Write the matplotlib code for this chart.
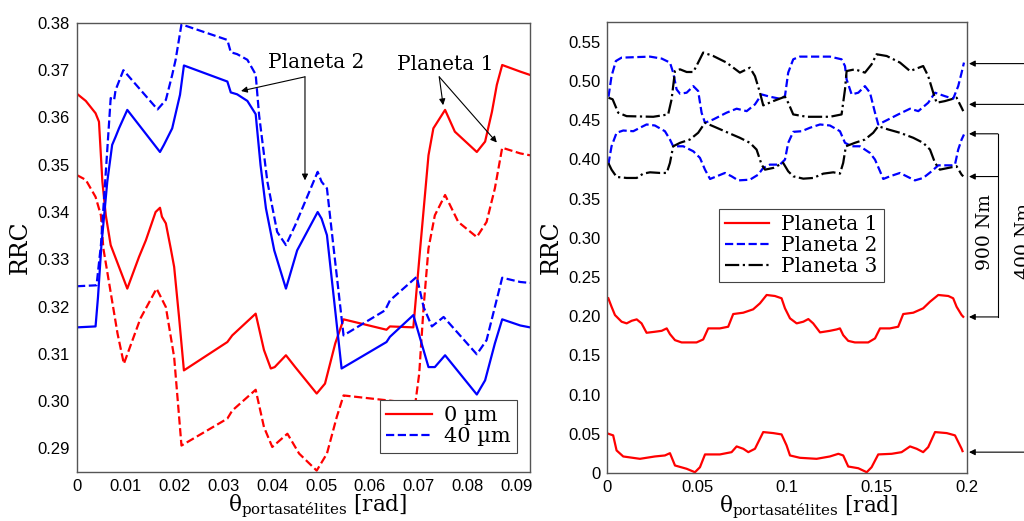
import matplotlib as mpl
mpl.use('Agg')
import matplotlib.pyplot as plt

# ---- left panel: RRC vs carrier angle, 0 um / 40 um ----
x_p1_0 = [0, 0.0018, 0.0038, 0.0045, 0.0052, 0.0059, 0.0069, 0.0103, 0.0127, 0.0141,
          0.0161, 0.0170, 0.0174, 0.0182, 0.0192, 0.0199, 0.0209, 0.0219, 0.0308, 0.0318,
          0.0366, 0.0383, 0.0397, 0.0405, 0.0428, 0.0447, 0.0491, 0.0508, 0.0529, 0.0546,
          0.0634, 0.0641, 0.0689, 0.0703, 0.0720, 0.0730, 0.0754, 0.0774, 0.0819, 0.0836,
          0.0850, 0.0860, 0.0871, 0.0908, 0.0928]
y_p1_0 = [0.3650, 0.3635, 0.3609, 0.3591, 0.3464, 0.3393, 0.3330, 0.3238, 0.3305, 0.3340,
          0.3400, 0.3409, 0.3390, 0.3376, 0.3323, 0.3284, 0.3178, 0.3065, 0.3125, 0.3139,
          0.3185, 0.3108, 0.3069, 0.3072, 0.3097, 0.3072, 0.3016, 0.3037, 0.3122, 0.3173,
          0.3151, 0.3158, 0.3156, 0.3323, 0.3520, 0.3577, 0.3616, 0.3570, 0.3527, 0.3549,
          0.3612, 0.3669, 0.3711, 0.3697, 0.3690]

x_p1_40 = [0, 0.0018, 0.0038, 0.0049, 0.0054, 0.0083, 0.0096, 0.0130, 0.0163, 0.0182,
           0.0199, 0.0214, 0.0308, 0.0318, 0.0366, 0.0383, 0.0400, 0.0431, 0.0455, 0.0491,
           0.0512, 0.0532, 0.0546, 0.0693, 0.0701, 0.0710, 0.0720, 0.0733, 0.0754, 0.0781,
           0.0819, 0.0839, 0.0856, 0.0871, 0.0908, 0.0928]
y_p1_40 = [0.3478, 0.3468, 0.3432, 0.3393, 0.3323, 0.3143, 0.3079, 0.3175, 0.3238, 0.3199,
           0.3093, 0.2906, 0.2963, 0.2980, 0.3024, 0.2945, 0.2903, 0.2931, 0.2889, 0.2853,
           0.2889, 0.2966, 0.3012, 0.2995, 0.3058, 0.3199, 0.3323, 0.3393, 0.3436, 0.3379,
           0.3347, 0.3379, 0.3450, 0.3536, 0.3524, 0.3520]

x_p2_0 = [0, 0.0038, 0.0043, 0.0050, 0.0062, 0.0072, 0.0079, 0.0086, 0.0103, 0.0170,
          0.0178, 0.0195, 0.0211, 0.0219, 0.0308, 0.0315, 0.0328, 0.0349, 0.0366, 0.0376,
          0.0387, 0.0404, 0.0428, 0.0451, 0.0493, 0.0501, 0.0512, 0.0542, 0.0634, 0.0641,
          0.0689, 0.0720, 0.0733, 0.0754, 0.0819, 0.0836, 0.0856, 0.0871, 0.0908, 0.0928]
y_p2_0 = [0.3156, 0.3158, 0.3220, 0.3330, 0.3464, 0.3542, 0.3559, 0.3577, 0.3616, 0.3527,
          0.3542, 0.3577, 0.3648, 0.3710, 0.3676, 0.3653, 0.3649, 0.3635, 0.3607, 0.3499,
          0.3408, 0.3319, 0.3238, 0.3319, 0.3400, 0.3386, 0.3351, 0.3069, 0.3125, 0.3136,
          0.3182, 0.3072, 0.3072, 0.3097, 0.3014, 0.3044, 0.3122, 0.3173, 0.3160, 0.3156]

x_p2_40 = [0, 0.0040, 0.0049, 0.0060, 0.0069, 0.0076, 0.0079, 0.0095, 0.0165, 0.0182,
           0.0195, 0.0202, 0.0214, 0.0308, 0.0315, 0.0328, 0.0349, 0.0366, 0.0373, 0.0390,
           0.0410, 0.0428, 0.0447, 0.0493, 0.0501, 0.0512, 0.0525, 0.0546, 0.0631, 0.0641,
           0.0696, 0.0710, 0.0727, 0.0751, 0.0819, 0.0839, 0.0871, 0.0908, 0.0928]
y_p2_40 = [0.3243, 0.3245, 0.3330, 0.3500, 0.3641, 0.3637, 0.3658, 0.3700, 0.3617, 0.3637,
           0.3690, 0.3722, 0.3797, 0.3764, 0.3738, 0.3734, 0.3722, 0.3691, 0.3605, 0.3464,
           0.3358, 0.3330, 0.3372, 0.3485, 0.3464, 0.3450, 0.3330, 0.3139, 0.3192, 0.3213,
           0.3263, 0.3199, 0.3158, 0.3178, 0.3099, 0.3129, 0.3261, 0.3252, 0.3250]

left_xticks = [0, 0.01, 0.02, 0.03, 0.04, 0.05, 0.06, 0.07, 0.08, 0.09]
left_xlabels = ['0', '0.01', '0.02', '0.03', '0.04', '0.05', '0.06', '0.07', '0.08', '0.09']
left_yticks = [0.29, 0.30, 0.31, 0.32, 0.33, 0.34, 0.35, 0.36, 0.37, 0.38]
left_ylabels = ['0.29', '0.30', '0.31', '0.32', '0.33', '0.34', '0.35', '0.36', '0.37', '0.38']

# ---- right panel: three planets, 400 Nm and 900 Nm ----
r1_900_x = [0.0006, 0.0024, 0.0043, 0.0080, 0.0108, 0.0136, 0.0164, 0.0191, 0.0219, 0.0265,
            0.0303, 0.0331, 0.0349, 0.0377, 0.0414, 0.0497, 0.0534, 0.0562, 0.0627, 0.0673,
            0.0701, 0.0757, 0.0812, 0.0850, 0.0887, 0.0933, 0.0970, 0.0989, 0.1017, 0.1054,
            0.1091, 0.1119, 0.1146, 0.1184, 0.1239, 0.1277, 0.1295, 0.1313, 0.1341, 0.1378,
            0.1452, 0.1490, 0.1518, 0.1573, 0.1619, 0.1647, 0.1703, 0.1758, 0.1796, 0.1842,
            0.1898, 0.1925, 0.1944, 0.1972, 0.1981]
r1_900_y = [0.2228, 0.2120, 0.2014, 0.1929, 0.1908, 0.1941, 0.1959, 0.1908, 0.1788, 0.1801,
            0.1813, 0.1844, 0.1771, 0.1694, 0.1665, 0.1665, 0.1703, 0.1844, 0.1844, 0.1865,
            0.2027, 0.2044, 0.2087, 0.2164, 0.2270, 0.2257, 0.2228, 0.2100, 0.1972, 0.1908,
            0.1929, 0.1963, 0.1908, 0.1793, 0.1813, 0.1831, 0.1844, 0.1758, 0.1685, 0.1665,
            0.1665, 0.1716, 0.1844, 0.1844, 0.1865, 0.2027, 0.2044, 0.2100, 0.2184, 0.2270,
            0.2257, 0.2228, 0.2120, 0.2014, 0.1992]

r1_400_x = [0.0006, 0.0033, 0.0052, 0.0089, 0.0182, 0.0265, 0.0321, 0.0349, 0.0377, 0.0442,
            0.0488, 0.0516, 0.0544, 0.0627, 0.0692, 0.0720, 0.0757, 0.0785, 0.0822, 0.0868,
            0.0924, 0.0970, 0.0998, 0.1017, 0.1072, 0.1165, 0.1239, 0.1286, 0.1313, 0.1341,
            0.1397, 0.1444, 0.1471, 0.1508, 0.1583, 0.1638, 0.1685, 0.1722, 0.1758, 0.1786,
            0.1824, 0.1889, 0.1935, 0.1972, 0.1977]
r1_400_y = [0.0501, 0.0480, 0.0288, 0.0211, 0.0181, 0.0211, 0.0224, 0.0253, 0.0096, 0.0054,
            0.0010, 0.0074, 0.0237, 0.0237, 0.0266, 0.0339, 0.0309, 0.0266, 0.0309, 0.0522,
            0.0509, 0.0492, 0.0352, 0.0224, 0.0194, 0.0181, 0.0211, 0.0245, 0.0224, 0.0083,
            0.0061, 0.0010, 0.0074, 0.0237, 0.0245, 0.0266, 0.0339, 0.0309, 0.0266, 0.0330,
            0.0522, 0.0509, 0.0480, 0.0309, 0.0279]

r2_400_x = [0.0007, 0.0024, 0.0048, 0.0080, 0.0238, 0.0303, 0.0349, 0.0367, 0.0386, 0.0405,
            0.0442, 0.0479, 0.0506, 0.0525, 0.0544, 0.0590, 0.0664, 0.0720, 0.0776, 0.0822,
            0.0859, 0.0905, 0.0961, 0.0989, 0.1007, 0.1035, 0.1072, 0.1239, 0.1304, 0.1323,
            0.1332, 0.1360, 0.1397, 0.1434, 0.1462, 0.1490, 0.1508, 0.1545, 0.1619, 0.1685,
            0.1731, 0.1786, 0.1824, 0.1879, 0.1925, 0.1953, 0.1972, 0.1985]
r2_400_y = [0.4798, 0.5061, 0.5253, 0.5296, 0.5309, 0.5284, 0.5233, 0.5105, 0.4891, 0.4836,
            0.4849, 0.4933, 0.4870, 0.4594, 0.4466, 0.4508, 0.4594, 0.4645, 0.4614, 0.4700,
            0.4827, 0.4798, 0.4772, 0.4805, 0.5105, 0.5275, 0.5309, 0.5309, 0.5275, 0.5189,
            0.5019, 0.4827, 0.4849, 0.4933, 0.4849, 0.4594, 0.4444, 0.4486, 0.4572, 0.4645,
            0.4614, 0.4721, 0.4849, 0.4805, 0.4772, 0.4933, 0.5105, 0.5233]

r2_900_x = [0.0006, 0.0024, 0.0052, 0.0089, 0.0145, 0.0182, 0.0219, 0.0265, 0.0321, 0.0349,
            0.0367, 0.0423, 0.0479, 0.0516, 0.0544, 0.0572, 0.0609, 0.0655, 0.0692, 0.0729,
            0.0794, 0.0840, 0.0868, 0.0905, 0.0961, 0.0989, 0.1007, 0.1035, 0.1082, 0.1128,
            0.1184, 0.1239, 0.1295, 0.1323, 0.1360, 0.1406, 0.1462, 0.1490, 0.1518, 0.1536,
            0.1573, 0.1629, 0.1666, 0.1712, 0.1758, 0.1805, 0.1842, 0.1917, 0.1935, 0.1953,
            0.1972, 0.1985]
r2_900_y = [0.3932, 0.4166, 0.4338, 0.4367, 0.4358, 0.4402, 0.4444, 0.4431, 0.4358, 0.4252,
            0.4166, 0.4166, 0.4102, 0.4018, 0.3868, 0.3749, 0.3783, 0.3826, 0.3783, 0.3731,
            0.3740, 0.3804, 0.3890, 0.3932, 0.3932, 0.3996, 0.4210, 0.4350, 0.4358, 0.4402,
            0.4444, 0.4431, 0.4358, 0.4210, 0.4166, 0.4166, 0.4081, 0.3996, 0.3847, 0.3749,
            0.3783, 0.3826, 0.3783, 0.3731, 0.3762, 0.3847, 0.3923, 0.3923, 0.3932, 0.4124,
            0.4252, 0.4316]

r3_400_x = [0.0007, 0.0030, 0.0061, 0.0108, 0.0256, 0.0339, 0.0358, 0.0377, 0.0405, 0.0442,
            0.0479, 0.0506, 0.0534, 0.0590, 0.0664, 0.0738, 0.0794, 0.0822, 0.0850, 0.0868,
            0.0924, 0.0989, 0.1007, 0.1035, 0.1110, 0.1239, 0.1304, 0.1323, 0.1332, 0.1378,
            0.1434, 0.1471, 0.1499, 0.1555, 0.1629, 0.1685, 0.1758, 0.1786, 0.1814, 0.1833,
            0.1879, 0.1944, 0.1972, 0.1981]
r3_400_y = [0.4785, 0.4765, 0.4594, 0.4550, 0.4542, 0.4572, 0.4763, 0.5125, 0.5147, 0.5113,
            0.5113, 0.5233, 0.5361, 0.5317, 0.5233, 0.5105, 0.5168, 0.5061, 0.4849, 0.4687,
            0.4742, 0.4798, 0.4721, 0.4572, 0.4542, 0.4542, 0.4572, 0.4891, 0.5125, 0.5147,
            0.5105, 0.5211, 0.5339, 0.5317, 0.5233, 0.5125, 0.5189, 0.5061, 0.4849, 0.4721,
            0.4742, 0.4785, 0.4657, 0.4614]

r3_900_x = [0.0006, 0.0024, 0.0052, 0.0108, 0.0164, 0.0200, 0.0238, 0.0293, 0.0331, 0.0349,
            0.0367, 0.0405, 0.0460, 0.0506, 0.0544, 0.0609, 0.0673, 0.0738, 0.0794, 0.0831,
            0.0859, 0.0878, 0.0924, 0.0979, 0.1007, 0.1035, 0.1091, 0.1146, 0.1202, 0.1258,
            0.1295, 0.1313, 0.1328, 0.1378, 0.1434, 0.1480, 0.1508, 0.1564, 0.1629, 0.1703,
            0.1758, 0.1796, 0.1824, 0.1851, 0.1898, 0.1944, 0.1972, 0.1981]
r3_900_y = [0.3953, 0.3868, 0.3775, 0.3762, 0.3762, 0.3817, 0.3834, 0.3826, 0.3826, 0.3954,
            0.4166, 0.4210, 0.4252, 0.4338, 0.4466, 0.4402, 0.4338, 0.4274, 0.4210, 0.4124,
            0.3932, 0.3868, 0.3890, 0.3954, 0.3847, 0.3783, 0.3753, 0.3762, 0.3817, 0.3834,
            0.3817, 0.3954, 0.4166, 0.4210, 0.4252, 0.4338, 0.4422, 0.4380, 0.4338, 0.4274,
            0.4210, 0.4124, 0.3954, 0.3868, 0.3890, 0.3911, 0.3804, 0.3783]

right_xticks = [0, 0.05, 0.1, 0.15, 0.2]
right_xlabels = ['0', '0.05', '0.1', '0.15', '0.2']
right_yticks = [0, 0.05, 0.10, 0.15, 0.20, 0.25, 0.30, 0.35, 0.40, 0.45, 0.50, 0.55]
right_ylabels = ['0', '0.05', '0.10', '0.15', '0.20', '0.25', '0.30', '0.35', '0.40',
                 '0.45', '0.50', '0.55']

# curve ends marked at the right of the second panel
ends_900 = [0.4325, 0.378, 0.199]
ends_400 = [0.522, 0.470, 0.0266]

RED = '#ff0000'
BLUE = '#0000ff'
SERIF = 'DejaVu Serif'
SANS = 'Liberation Sans'
xlab = 'θ$_{\\mathregular{portasatélites}}$ [rad]'

plt.rcParams['mathtext.fontset'] = 'custom'
plt.rcParams['mathtext.rm'] = SERIF

fig = plt.figure(figsize=(10.24, 5.21), dpi=100)
ax1 = fig.add_axes([0.0752, 0.094, 0.4424, 0.862])
ax2 = fig.add_axes([0.593, 0.0921, 0.351, 0.8656])

lw = 1.6
ax1.plot(x_p1_0, y_p1_0, color=RED, lw=lw, label='0 µm')
ax1.plot(x_p1_40, y_p1_40, color=RED, lw=lw, ls='--')
ax1.plot(x_p2_0, y_p2_0, color=BLUE, lw=lw)
ax1.plot(x_p2_40, y_p2_40, color=BLUE, lw=lw, ls='--', label='40 µm')
ax1.set_xlim(0, 0.0928)
ax1.set_ylim(0.285, 0.38)
ax1.set_xticks(left_xticks)
ax1.set_xticklabels(left_xlabels)
ax1.set_yticks(left_yticks)
ax1.set_yticklabels(left_ylabels)
ax1.set_ylabel('RRC', family=SERIF, fontsize=17, labelpad=4)
ax1.set_xlabel(xlab, family=SERIF, fontsize=15.5)
ax1.xaxis.set_label_coords(0.53, -0.047)
leg1 = ax1.legend(loc='lower right', bbox_to_anchor=(0.995, 0.02), fancybox=False,
                  framealpha=1, edgecolor='#444444', prop={'family': SERIF, 'size': 15},
                  handlelength=2.2, borderpad=0.3, labelspacing=0.1, handletextpad=0.6)
leg1.get_frame().set_linewidth(0.8)

arr = dict(arrowstyle='-|>', color='black', lw=0.8, mutation_scale=9, shrinkA=0, shrinkB=0)
ax1.text(0.0490, 0.3717, 'Planeta 2', family=SERIF, fontsize=14.5, ha='center', va='center')
ax1.annotate('', xy=(0.0336, 0.3656), xytext=(0.0467, 0.3686), arrowprops=arr)
ax1.annotate('', xy=(0.0467, 0.3467), xytext=(0.0467, 0.3686), arrowprops=arr)
ax1.text(0.0754, 0.3713, 'Planeta 1', family=SERIF, fontsize=14.5, ha='center', va='center')
ax1.annotate('', xy=(0.0750, 0.3626), xytext=(0.0742, 0.3686), arrowprops=arr)
ax1.annotate('', xy=(0.0860, 0.3547), xytext=(0.0742, 0.3686), arrowprops=arr)

ax2.plot(r1_900_x, r1_900_y, color=RED, lw=lw, label='Planeta 1')
ax2.plot(r1_400_x, r1_400_y, color=RED, lw=lw)
ax2.plot(r2_400_x, r2_400_y, color=BLUE, lw=lw, ls='--', label='Planeta 2')
ax2.plot(r2_900_x, r2_900_y, color=BLUE, lw=lw, ls='--')
ax2.plot(r3_400_x, r3_400_y, color='black', lw=lw, ls='-.', label='Planeta 3')
ax2.plot(r3_900_x, r3_900_y, color='black', lw=lw, ls='-.')
ax2.set_xlim(0, 0.2)
ax2.set_ylim(0, 0.575)
ax2.set_xticks(right_xticks)
ax2.set_xticklabels(right_xlabels)
ax2.set_yticks(right_yticks)
ax2.set_yticklabels(right_ylabels)
ax2.set_ylabel('RRC', family=SERIF, fontsize=17, labelpad=4)
ax2.set_xlabel(xlab, family=SERIF, fontsize=15.5)
ax2.xaxis.set_label_coords(0.56, -0.047)
leg2 = ax2.legend(loc='upper center', bbox_to_anchor=(0.54, 0.607), fancybox=False,
                  framealpha=1, edgecolor='#444444', prop={'family': SERIF, 'size': 14.5},
                  handlelength=2.2, borderpad=0.3, labelspacing=0.1, handletextpad=0.6)
leg2.get_frame().set_linewidth(0.8)

# brackets at the right edge (the 400 Nm one runs off the page)
tip = 0.2013
br900 = 0.2174
br400 = 0.2600
for y in ends_900:
    ax2.annotate('', xy=(tip, y), xytext=(br900, y), arrowprops=arr, annotation_clip=False)
ax2.plot([br900, br900], [min(ends_900), max(ends_900)], color='black', lw=0.8, clip_on=False)
for y in ends_400:
    ax2.annotate('', xy=(tip, y), xytext=(br400, y), arrowprops=arr, annotation_clip=False)
ax2.text(0.2100, 0.3075, '900 Nm', family=SERIF, fontsize=13.5, rotation=90,
         ha='center', va='center', clip_on=False)
ax2.text(0.2318, 0.296, '400 Nm', family=SERIF, fontsize=13.5, rotation=90,
         ha='center', va='center', clip_on=False)

for ax in (ax1, ax2):
    for s in ax.spines.values():
        s.set_color('#555555')
        s.set_linewidth(1.0)
    ax.tick_params(length=0, pad=5, labelsize=12)
    for t in ax.get_xticklabels() + ax.get_yticklabels():
        t.set_family(SANS)

fig.savefig('out.png', dpi=100)
